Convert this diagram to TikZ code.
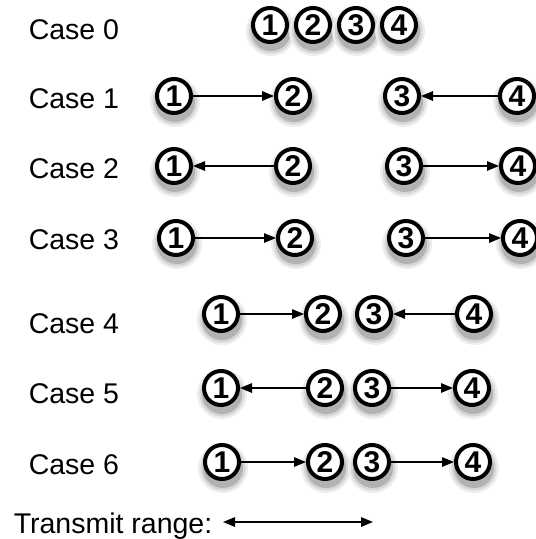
\documentclass[tikz,border=0pt]{standalone}
\usepackage{fontspec}
\setmainfont{Liberation Sans}
\usetikzlibrary{arrows.meta}
\pgfdeclarelayer{background}
\pgfsetlayers{background,main}

\begin{document}
\begin{tikzpicture}[x=1pt,y=-1pt,>={Triangle[length=12pt,width=9.5pt]},
      line width=1.5pt,
      stn/.style={circle,draw,fill=white,line width=4pt,minimum size=34pt,
        inner sep=0pt,font=\fontsize{30}{30}\selectfont\bfseries},
      case/.style={anchor=west,inner sep=0pt,font=\fontsize{28.5}{28.5}\selectfont}]

      \useasboundingbox (0,0) rectangle (536,539);

      % case labels
      \node[case] (l0) at (28,30) {Case 0};
      \node[case] (l1) at (28,99) {Case 1};
      \node[case] (l2) at (28,169) {Case 2};
      \node[case] (l3) at (28,240) {Case 3};
      \node[case] (l4) at (28,324) {Case 4};
      \node[case] (l5) at (28,394) {Case 5};
      \node[case] (l6) at (28,465) {Case 6};

      % case 0
      \node[stn] (a1) at (270,25) {1};
      \node[stn] (a2) at (313,25) {2};
      \node[stn] (a3) at (356,25) {3};
      \node[stn] (a4) at (399,25) {4};

      % case 1
      \node[stn] (b1) at (174,96) {1};
      \node[stn] (b2) at (293,96) {2};
      \node[stn] (b3) at (402,96) {3};
      \node[stn] (b4) at (517,96) {4};
      \draw[->] (b1) -- (b2);
      \draw[->] (b4) -- (b3);

      % case 2
      \node[stn] (c1) at (174,166) {1};
      \node[stn] (c2) at (293,166) {2};
      \node[stn] (c3) at (404,166) {3};
      \node[stn] (c4) at (518,166) {4};
      \draw[->] (c2) -- (c1);
      \draw[->] (c3) -- (c4);

      % case 3
      \node[stn] (d1) at (176,238) {1};
      \node[stn] (d2) at (295,238) {2};
      \node[stn] (d3) at (406,238) {3};
      \node[stn] (d4) at (520,238) {4};
      \draw[->] (d1) -- (d2);
      \draw[->] (d3) -- (d4);

      % case 4
      \node[stn] (e1) at (221,314) {1};
      \node[stn] (e2) at (323,314) {2};
      \node[stn] (e3) at (374,314) {3};
      \node[stn] (e4) at (474,314) {4};
      \draw[->] (e1) -- (e2);
      \draw[->] (e4) -- (e3);

      % case 5
      \node[stn] (f1) at (221,388) {1};
      \node[stn] (f2) at (325,388) {2};
      \node[stn] (f3) at (372,388) {3};
      \node[stn] (f4) at (472,388) {4};
      \draw[->] (f2) -- (f1);
      \draw[->] (f3) -- (f4);

      % case 6
      \node[stn] (g1) at (222,462) {1};
      \node[stn] (g2) at (325,462) {2};
      \node[stn] (g3) at (372,462) {3};
      \node[stn] (g4) at (473,462) {4};
      \draw[->] (g1) -- (g2);
      \draw[->] (g3) -- (g4);

      % legend
      \node[anchor=base west,inner sep=0pt,font=\fontsize{28.5}{28.5}\selectfont]
        (range) at (13,533) {Transmit range:};
      \coordinate (rl) at (223,522);
      \coordinate (rr) at (373,522);
      \draw[<->] (rl) -- (rr);

      % soft shadows under the stations
      \begin{pgfonlayer}{background}
        \foreach \n in {a1,a2,a3,a4,b1,b2,b3,b4,c1,c2,c3,c4,d1,d2,d3,d4,
            e1,e2,e3,e4,f1,f2,f3,f4,g1,g2,g3,g4} {
          \fill[black!7] ([shift={(1,6)}]\n.center) circle (25);
          \fill[black!16] ([shift={(1,6)}]\n.center) circle (22.5);
          \fill[black!30] ([shift={(1,6)}]\n.center) circle (20);
        }
      \end{pgfonlayer}
    \end{tikzpicture}
\end{document}
